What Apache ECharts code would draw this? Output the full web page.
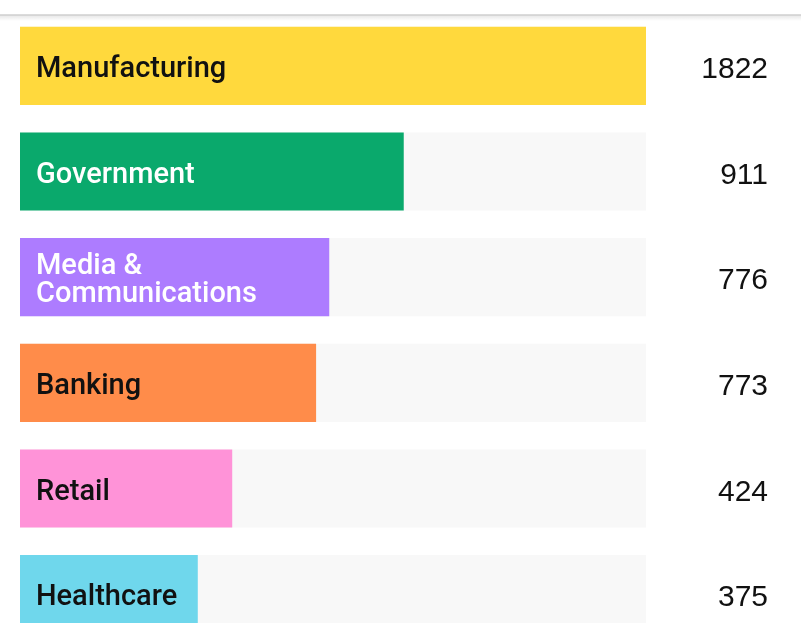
<!DOCTYPE html>
<html>
<head>
<meta charset="utf-8">
<script src="https://cdn.jsdelivr.net/npm/echarts@6/dist/echarts.min.js"></script>
<style>
html,body{margin:0;padding:0;background:#fff;}
#chart{width:801px;height:623px;}
</style>
</head>
<body>
<div id="chart"></div>
<script>
// Industry categories (top to bottom)
const categories = ['Manufacturing', 'Government', 'Media &\nCommunications', 'Banking', 'Retail', 'Healthcare'];
// Counts shown at the right
const counts = [1822, 911, 776, 773, 424, 375];
// Bar lengths (share of the longest bar, %)
const barShare = [100, 61.3, 49.4, 47.3, 33.9, 28.4];
// Bar colours and label colours
const barColors = ['#FFD93D', '#0AA96C', '#AD7CFF', '#FF8C4A', '#FF93D8', '#6FD7EC'];
const labelColors = ['#111111', '#ffffff', '#ffffff', '#111111', '#111111', '#111111'];

const chart = echarts.init(document.getElementById('chart'), null, {renderer: 'canvas'});

const seriesData = barShare.map((v, i) => ({
  value: v,
  itemStyle: {color: barColors[i]},
  label: {color: labelColors[i]}
}));

chart.setOption({
  animation: false,
  backgroundColor: '#ffffff',
  grid: {left: 20, top: 13, width: 626, height: 634, containLabel: false, outerBoundsMode: 'none'},
  xAxis: {
    type: 'value', min: 0, max: 100, show: false
  },
  yAxis: [
    {
      type: 'category', data: categories, inverse: true, show: false
    },
    {
      type: 'category', data: counts.map(String), inverse: true, position: 'right',
      axisLine: {show: false}, axisTick: {show: false}, splitLine: {show: false},
      axisLabel: {
        show: true, align: 'right', margin: 122,
        formatter: (v) => '{n|' + v + '}',
        rich: {
          n: {
            fontFamily: 'Liberation Sans', fontSize: 30, color: '#111111',
            padding: [8, 0, 0, 0]
          }
        }
      }
    }
  ],
  series: [{
    type: 'bar',
    yAxisIndex: 0,
    data: seriesData,
    barCategoryGap: '26%',
    showBackground: true,
    backgroundStyle: {color: '#f8f8f8'},
    label: {
      show: true,
      position: 'insideLeft',
      distance: 16,
      offset: [0, 4],
      fontFamily: 'Roboto',
      fontWeight: 500,
      fontSize: 29,
      lineHeight: 28,
      formatter: (p) => categories[p.dataIndex]
    }
  }],
  graphic: [
    {
      type: 'rect', silent: true, z: 100,
      shape: {x: 0, y: 15, width: 801, height: 6},
      style: {
        fill: new echarts.graphic.LinearGradient(0, 0, 0, 1, [
          {offset: 0, color: 'rgba(0,0,0,0.10)'},
          {offset: 1, color: 'rgba(0,0,0,0)'}
        ])
      }
    },
    {
      type: 'line', silent: true, z: 101,
      shape: {x1: 0, y1: 15, x2: 801, y2: 15},
      style: {stroke: '#cfcfcf', lineWidth: 1.5}
    }
  ]
});
</script>
</body>
</html>
